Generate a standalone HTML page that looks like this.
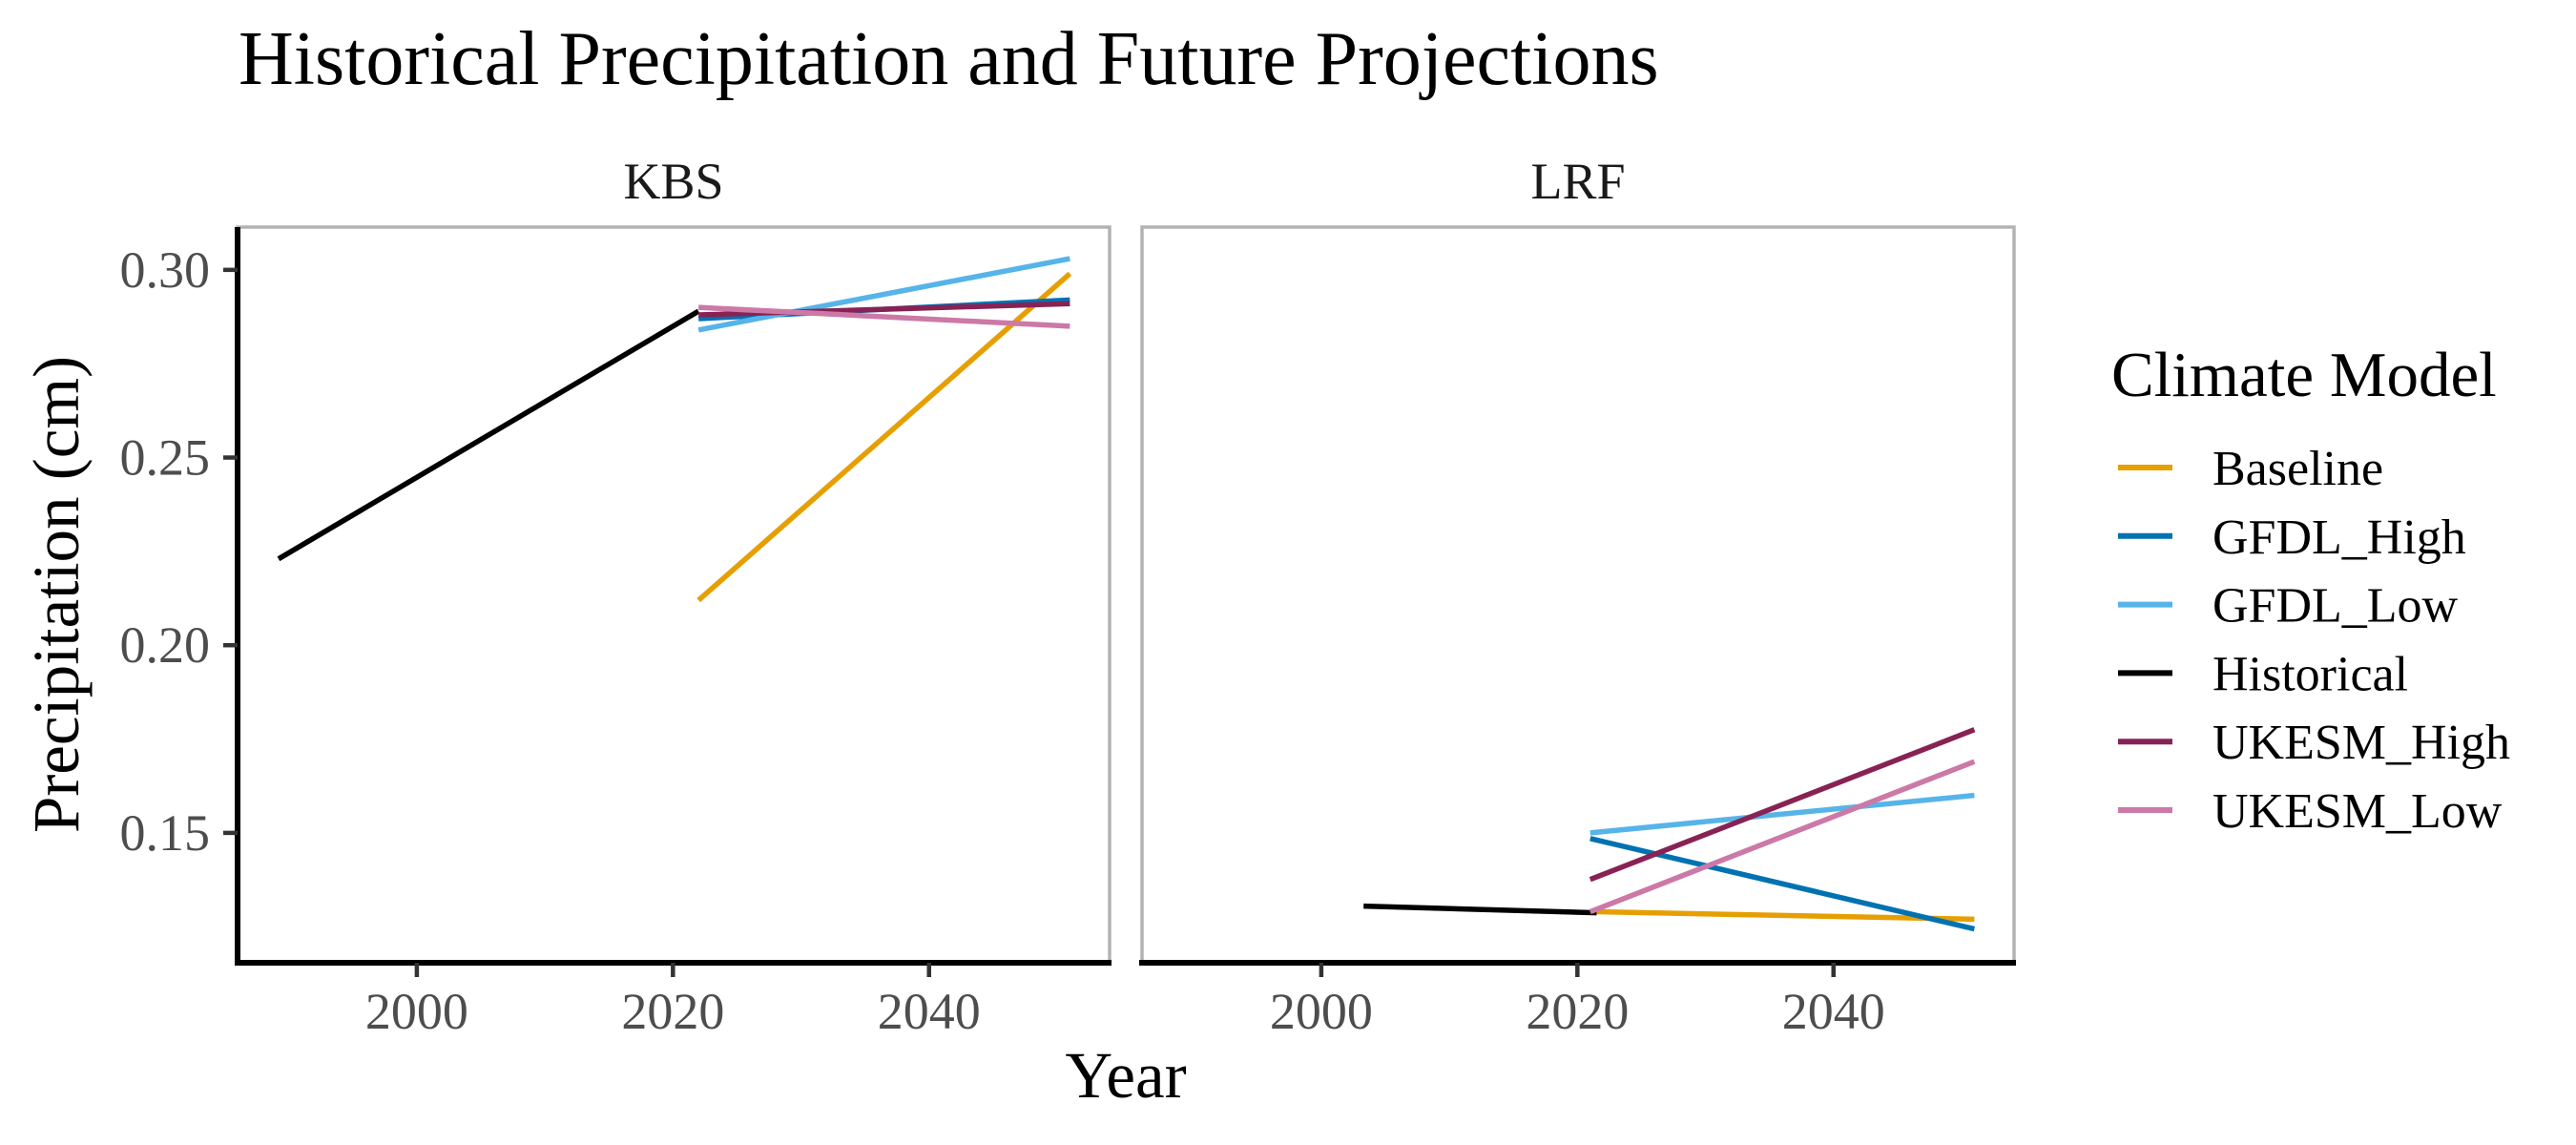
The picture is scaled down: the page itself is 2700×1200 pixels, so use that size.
<!DOCTYPE html>
<html><head><meta charset="utf-8"><style>
html,body{margin:0;padding:0;background:#fff;}
svg{display:block;font-family:"Liberation Serif",serif;}
</style></head><body>
<svg id="chart" width="2700" height="1200" viewBox="0 0 2700 1200">
<text x="250" y="88" font-size="80" fill="#000">Historical Precipitation and Future Projections</text>
<text transform="translate(82,623) rotate(-90)" text-anchor="middle" font-size="69" fill="#000">Precipitation (cm)</text>
<text x="1180" y="1150" text-anchor="middle" font-size="69" fill="#000">Year</text>
<g id="panels"></g>
<g id="legend"></g>
</svg>
<script>
const NS="http://www.w3.org/2000/svg";
const panelNames=["KBS","LRF"];
const seriesNames=["Baseline","GFDL_High","GFDL_Low","Historical","UKESM_High","UKESM_Low"];
const seriesColors=["#E69F00","#0072B2","#56B4E9","#000000","#882255","#CC79A7"];
const xTicks=[2000,2020,2040];
const yTicks=[0.15,0.20,0.25,0.30];
const yTickLabels=["0.15","0.20","0.25","0.30"];
const kbsYears=[[2022,2051],[2022,2051],[2022,2051],[1989.2,2022],[2022,2051],[2022,2051]];
const kbsValues=[[0.212,0.299],[0.287,0.292],[0.284,0.303],[0.223,0.289],[0.288,0.291],[0.290,0.285]];
const lrfYears=[[2021.5,2051],[2021,2051],[2021,2051],[2003.3,2021.5],[2021,2051],[2021,2051]];
const lrfValues=[[0.129,0.127],[0.1485,0.1244],[0.150,0.160],[0.1305,0.1287],[0.1376,0.1775],[0.129,0.169]];
const panelYears=[kbsYears,lrfYears];
const panelValues=[kbsValues,lrfValues];

const panelLefts=[249,1197], PW=914, PT=238, PB=1009;
const xDom=[1986.0,2054.1], yDom=[0.1154,0.3114];
function xs(p,v){return panelLefts[p]+(v-xDom[0])/(xDom[1]-xDom[0])*PW;}
function ys(v){return PB-(v-yDom[0])/(yDom[1]-yDom[0])*(PB-PT);}
function mk(tag,attrs,parent){const e=document.createElementNS(NS,tag);for(const k in attrs)e.setAttribute(k,attrs[k]);parent.appendChild(e);return e;}
const panels=document.getElementById('panels');
panelNames.forEach((nm,p)=>{
  const g=mk('g',{},panels);
  
  
  const L=panelLefts[p];
  const st=mk('text',{x:L+PW/2,y:208,'text-anchor':'middle','font-size':54,fill:'#1a1a1a'},g);
  st.textContent=nm;
  
  
  const bd=mk('rect',{x:L,y:PT,width:PW,height:PB-PT,fill:'none',stroke:'#b3b3b3','stroke-width':3.5},g);
  
  
  seriesNames.forEach((s,i)=>{
    const yr=panelYears[p][i], va=panelValues[p][i];
    const ln=mk('line',{x1:xs(p,yr[0]),y1:ys(va[0]),x2:xs(p,yr[1]),y2:ys(va[1]),stroke:seriesColors[i],'stroke-width':5.5},g);
    
    
  });
  const ax=mk('line',{x1:L-3,y1:PB,x2:L+PW+2,y2:PB,stroke:'#000','stroke-width':6},g);
  
  
  xTicks.forEach(t=>{
    const tk=mk('line',{x1:xs(p,t),y1:PB,x2:xs(p,t),y2:PB+15,stroke:'#333','stroke-width':4.5},g);
    
    
    const tl=mk('text',{x:xs(p,t),y:1078,'text-anchor':'middle','font-size':54,fill:'#4d4d4d'},g);
    tl.textContent=t;
    
    
  });
  if(p===0){
    const ay=mk('line',{x1:L,y1:PT,x2:L,y2:PB+3,stroke:'#000','stroke-width':6},g);
    
    
    yTicks.forEach((t,j)=>{
      const tk=mk('line',{x1:L-15,y1:ys(t),x2:L,y2:ys(t),stroke:'#333','stroke-width':4.5},g);
      
      
      const tl=mk('text',{x:220,y:ys(t)+18,'text-anchor':'end','font-size':54,fill:'#4d4d4d'},g);
      tl.textContent=yTickLabels[j];
      
      
    });
  }
});
const lg=document.getElementById('legend');


const lt=mk('text',{x:2213,y:415,'font-size':67,fill:'#000'},lg);
lt.textContent='Climate Model';


seriesNames.forEach((s,i)=>{
  const cy=490+i*71.8;
  const e=mk('g',{},lg);
  
  
  mk('line',{x1:2220,y1:cy,x2:2277,y2:cy,stroke:seriesColors[i],'stroke-width':6},e);
  const t=mk('text',{x:2319,y:cy+18,'font-size':52,fill:'#000'},e);
  t.textContent=s;
});
</script>
</body></html>
